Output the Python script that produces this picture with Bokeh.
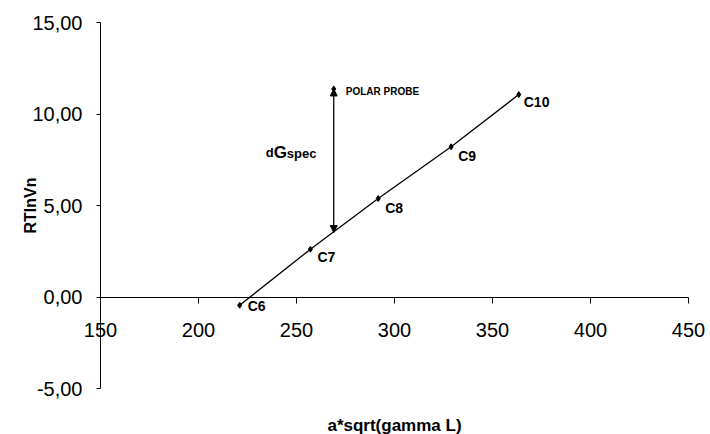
from bokeh.plotting import figure
from bokeh.models import Range1d, FixedTicker, Arrow, NormalHead, Label, ColumnDataSource
from bokeh.embed import file_html
from bokeh.resources import INLINE
from bokeh.core.properties import value

# ---- data ----
names = ["C6", "C7", "C8", "C9", "C10"]
x_vals = [221.0, 257.1, 291.7, 328.9, 363.4]
y_vals = [-0.45, 2.61, 5.38, 8.21, 11.06]
probe_name = "POLAR PROBE"
probe_x = 269.0
probe_y = 11.37
probe_base_y = 3.52
x_ticks = [150, 200, 250, 300, 350, 400, 450]
y_ticks = [-5, 0, 5, 10, 15]
y_tick_labels = ["-5,00", "0,00", "5,00", "10,00", "15,00"]
x_title = "a*sqrt(gamma L)"
y_title = "RTlnVn"

# ---- layout (pixels) ----
W, H = 710, 434
AX_L, AX_R, AX_T, AX_B = 100, 688, 22, 388   # where the axis box sits on the canvas
x_min, x_max = x_ticks[0], x_ticks[-1]
y_min, y_max = y_ticks[0], y_ticks[-1]
xs = (x_max - x_min) / (AX_R - AX_L)
ys = (y_max - y_min) / (AX_B - AX_T)
x_range = Range1d(x_min - AX_L * xs, x_max + (W - AX_R) * xs)
y_range = Range1d(y_min - (H - AX_B) * ys, y_max + AX_T * ys)

# label placement (screen px)
lbl_dx = [8, 7, 7, 7, 5]
lbl_dy = [1, 8, 9, 9, 7]

FONT = "Liberation Sans"

p = figure(width=W, height=H, output_backend="svg", toolbar_location=None,
           x_range=x_range, y_range=y_range,
           min_border_left=0, min_border_right=0, min_border_top=0, min_border_bottom=0)
p.outline_line_color = None
p.grid.visible = False
p.background_fill_color = "white"
p.border_fill_color = "white"

# axes crossing at (150, 0)
p.xaxis.fixed_location = 0
p.yaxis.fixed_location = x_min
p.xaxis.bounds = (x_min, x_max)
p.yaxis.bounds = (y_min, y_max)
p.xaxis.ticker = FixedTicker(ticks=x_ticks)
p.yaxis.ticker = FixedTicker(ticks=y_ticks)
p.yaxis.major_label_overrides = {t: s for t, s in zip(y_ticks, y_tick_labels)}
for ax in (p.xaxis, p.yaxis):
    ax.axis_line_color = "black"
    ax.major_tick_line_color = "black"
    ax.minor_tick_line_color = None
    ax.major_tick_in = 0
    ax.major_label_text_font = FONT
    ax.major_label_text_font_size = "20px"
    ax.major_label_text_color = "black"
p.xaxis.major_tick_out = 6
p.xaxis.major_label_standoff = 20
p.yaxis.major_tick_out = 4
p.yaxis.major_label_standoff = 14
p.yaxis.axis_label = y_title
p.yaxis.axis_label_text_font = FONT
p.yaxis.axis_label_text_font_size = "16px"
p.yaxis.axis_label_text_font_style = "bold"
p.yaxis.axis_label_text_color = "black"
p.yaxis.axis_label_standoff = -10

p.add_layout(Label(x=(x_min + x_max) / 2, y=y_min, y_offset=-37, text=x_title,
                   text_align="center", text_baseline="alphabetic", text_font=FONT,
                   text_font_size="17px", text_font_style="bold", text_color="black"))

# regression line and points
src = ColumnDataSource(dict(x=x_vals, y=y_vals, name=names, dx=lbl_dx, dy=lbl_dy))
p.line("x", "y", source=src, line_color="black", line_width=1.3)
p.scatter("x", "y", source=src, marker="diamond", size=6, color="black")
p.text("x", "y", text="name", source=src, x_offset="dx", y_offset="dy",
       text_font=value(FONT), text_font_size="14px", text_font_style="bold",
       text_color="black", text_baseline="alphabetic", text_align="left")

# polar probe and dGspec arrow
p.add_layout(Arrow(start=NormalHead(size=7, fill_color="black", line_color="black"),
                   end=NormalHead(size=7, fill_color="black", line_color="black"),
                   x_start=probe_x, y_start=probe_base_y, x_end=probe_x, y_end=probe_y,
                   line_color="black", line_width=1.3))
p.scatter([probe_x], [probe_y], marker="diamond", size=6, color="black")
p.text([probe_x], [probe_y], text=[probe_name], x_offset=12, y_offset=3,
       text_font=value(FONT), text_font_size="10px", text_font_style="bold",
       text_color="black", text_baseline="alphabetic")

mid_y = (probe_y + probe_base_y) / 2
parts = ["d", "G", "spec"]
part_dx = [-68, -60, -47]
part_dy = [-8, -8, -7]
part_size = ["13px", "17px", "13px"]
for t, dx, dy, fs in zip(parts, part_dx, part_dy, part_size):
    p.text([probe_x], [mid_y], text=[t], x_offset=dx, y_offset=dy,
           text_font=value(FONT), text_font_size=fs, text_font_style="bold",
           text_color="black", text_baseline="alphabetic")

open("out.html", "w").write(file_html(p, INLINE))
